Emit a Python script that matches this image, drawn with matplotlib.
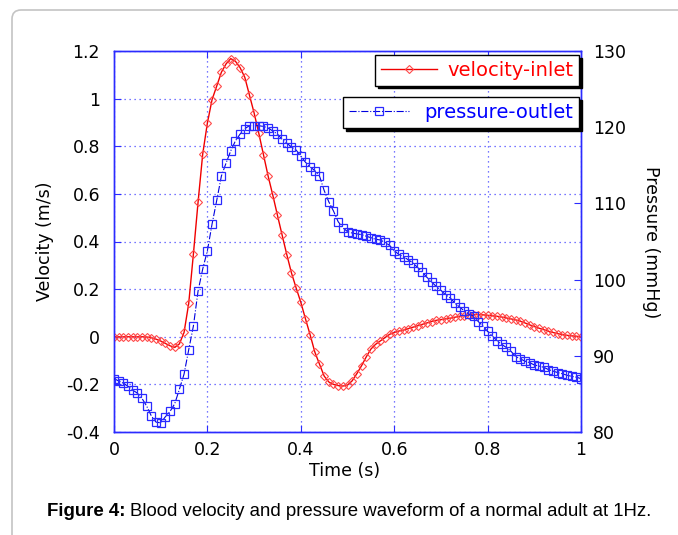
import matplotlib
matplotlib.use("Agg")
import matplotlib.pyplot as plt
import numpy as np
from matplotlib.patches import FancyBboxPatch
from matplotlib.transforms import IdentityTransform

plt.rcParams['font.family'] = ['DejaVu Sans']
plt.rcParams['axes.unicode_minus'] = False

# ---------------- data ----------------
time_s = np.linspace(0.0, 1.0, 101)

velocity_inlet = [
    0.0, 0.0, 0.0, 0.0, 0.0, 0.0, 0.0, -0.001, -0.004, -0.010,
    -0.018, -0.028, -0.038, -0.045, -0.030, 0.018, 0.140, 0.347, 0.565, 0.768,
    0.898, 0.996, 1.053, 1.111, 1.146, 1.168, 1.157, 1.130, 1.090, 1.015,
    0.940, 0.855, 0.765, 0.675, 0.595, 0.510, 0.427, 0.345, 0.268, 0.205,
    0.145, 0.075, 0.008, -0.064, -0.115, -0.165, -0.190, -0.200, -0.205, -0.207,
    -0.203, -0.185, -0.155, -0.122, -0.085, -0.052, -0.032, -0.018, -0.004, 0.010,
    0.018, 0.024, 0.028, 0.034, 0.040, 0.046, 0.052, 0.058, 0.064, 0.069,
    0.072, 0.075, 0.078, 0.082, 0.086, 0.089, 0.091, 0.093, 0.093, 0.092,
    0.090, 0.088, 0.086, 0.083, 0.079, 0.075, 0.071, 0.065, 0.058, 0.050,
    0.043, 0.036, 0.030, 0.023, 0.018, 0.013, 0.009, 0.006, 0.004, 0.002,
    0.0,
]

pressure_outlet = [
    87.0, 86.7, 86.4, 86.0, 85.5, 85.1, 84.4, 83.4, 82.1, 81.3,
    81.2, 82.0, 82.7, 83.7, 85.6, 87.6, 90.8, 93.9, 98.5, 101.4,
    103.8, 107.3, 110.4, 113.6, 115.3, 116.9, 118.2, 119.1, 119.8, 120.2,
    120.2, 120.2, 120.1, 119.9, 119.5, 119.1, 118.4, 117.9, 117.4, 117.0,
    116.2, 115.4, 114.8, 114.3, 113.6, 111.7, 110.2, 109.0, 107.6, 106.8,
    106.3, 106.1, 106.0, 105.9, 105.7, 105.5, 105.3, 105.2, 104.9, 104.5,
    103.8, 103.3, 103.0, 102.6, 102.2, 101.6, 101.0, 100.3, 99.7, 99.1,
    98.6, 98.0, 97.6, 96.9, 96.4, 95.9, 95.5, 95.2, 94.5, 93.9,
    93.2, 92.6, 92.0, 91.5, 91.1, 90.6, 89.9, 89.6, 89.3, 89.1,
    88.8, 88.65, 88.5, 88.2, 88.0, 87.8, 87.65, 87.45, 87.3, 87.2,
    87.0,
]

x_ticks = [0, 0.2, 0.4, 0.6, 0.8, 1]
x_ticklabels = ["0", "0.2", "0.4", "0.6", "0.8", "1"]
v_ticks = [-0.4, -0.2, 0, 0.2, 0.4, 0.6, 0.8, 1, 1.2]
v_ticklabels = ["-0.4", "-0.2", "0", "0.2", "0.4", "0.6", "0.8", "1", "1.2"]
p_ticks = [80, 90, 100, 110, 120, 130]
p_ticklabels = ["80", "90", "100", "110", "120", "130"]

# ---------------- figure ----------------
W, H = 678, 535
fig = plt.figure(figsize=(W / 100, H / 100), dpi=100)


def fx(px):
    return px / W


def fy(py):
    return 1 - py / H


# page border (rounded frame, light grey)
border = FancyBboxPatch((12, -40), 720, H - 10 + 40,
                        boxstyle="round,pad=0,rounding_size=9",
                        transform=IdentityTransform(), fc="none",
                        ec="#c4c4c4", lw=1.2)
fig.patches.append(border)

ax = fig.add_axes([fx(114), fy(432), fx(581) - fx(114), fy(51) - fy(432)])
ax2 = ax.twinx()

spine_col = "#2b2bff"
tick_col = "#2b2bff"

l1, = ax.plot(time_s, velocity_inlet, color="#f00000", lw=1.0,
              marker="D", ms=3.6, mfc="none", mec="#ff4a4a", mew=0.8,
              zorder=3)
l2, = ax2.plot(time_s, pressure_outlet, color="#0000e0", lw=0.8, ls="-.",
               marker="s", ms=5.8, mfc="none", mec="#2a2aff", mew=0.9,
               zorder=3)

ax.set_xlim(0, 1)
ax.set_ylim(-0.4, 1.2)
ax2.set_ylim(80, 130)

ax.set_xticks(x_ticks)
ax.set_xticklabels(x_ticklabels)
ax.set_yticks(v_ticks)
ax.set_yticklabels(v_ticklabels)
ax2.set_yticks(p_ticks)
ax2.set_yticklabels(p_ticklabels)

ax.grid(True, color="#4a4aff", linestyle=(0, (1, 3)), lw=0.9)

for a in (ax, ax2):
    for s in a.spines.values():
        s.set_color(spine_col)
        s.set_linewidth(1.0)

ax.tick_params(axis="y", direction="in", length=5, color=tick_col,
               labelsize=12.5, pad=10, labelcolor="black", right=False)
ax.tick_params(axis="x", direction="in", length=5, color=tick_col,
               labelsize=12.5, pad=6.5, labelcolor="black", top=True)
ax2.tick_params(axis="y", direction="in", length=5, color=tick_col,
                labelsize=12.5, pad=8.6, labelcolor="black")

# axis titles
fig.text(fx(45), fy(241), "Velocity (m/s)", rotation=90, ha="center",
         va="center", size=12.5)
fig.text(fx(651), fy(242), "Pressure (mmHg)", rotation=270, ha="center",
         va="center", size=12.5)
fig.text(fx(345), fy(471), "Time (s)", ha="center", va="center", size=12.5)

# legends
shadow = {"color": "black", "alpha": 1.0}
leg1 = ax2.legend([l1], ["velocity-inlet"], loc="upper right",
                  bbox_to_anchor=(fx(579), fy(55)),
                  bbox_transform=fig.transFigure, fancybox=False,
                  edgecolor="black", framealpha=1, shadow=shadow,
                  handlelength=2.9, handletextpad=0.5, borderpad=0.3,
                  borderaxespad=0, prop={"size": 14})
leg1.get_texts()[0].set_color("#ff0000")
leg1.get_frame().set_linewidth(1.0)
ax2.add_artist(leg1)

leg2 = ax2.legend([l2], ["pressure-outlet"], loc="upper right",
                  bbox_to_anchor=(fx(579), fy(97)),
                  bbox_transform=fig.transFigure, fancybox=False,
                  edgecolor="black", framealpha=1, shadow=shadow,
                  handlelength=3.1, handletextpad=0.75, borderpad=0.32,
                  borderaxespad=0, prop={"size": 14})
leg2.get_texts()[0].set_color("#0000ff")
leg2.get_frame().set_linewidth(1.0)

# caption
cap_font = ["Liberation Sans", "DejaVu Sans"]
renderer = fig.canvas.get_renderer()
bold = fig.text(fx(47), fy(512), "Figure 4:", ha="left", va="center",
                size=13.4, weight="bold", family=cap_font)
bb = bold.get_window_extent(renderer)
fig.text((bb.x1 + 4) / W, fy(512),
         "Blood velocity and pressure waveform of a normal adult at 1Hz.",
         ha="left", va="center", size=13.4, family=cap_font)

fig.savefig("out.png", dpi=100)
